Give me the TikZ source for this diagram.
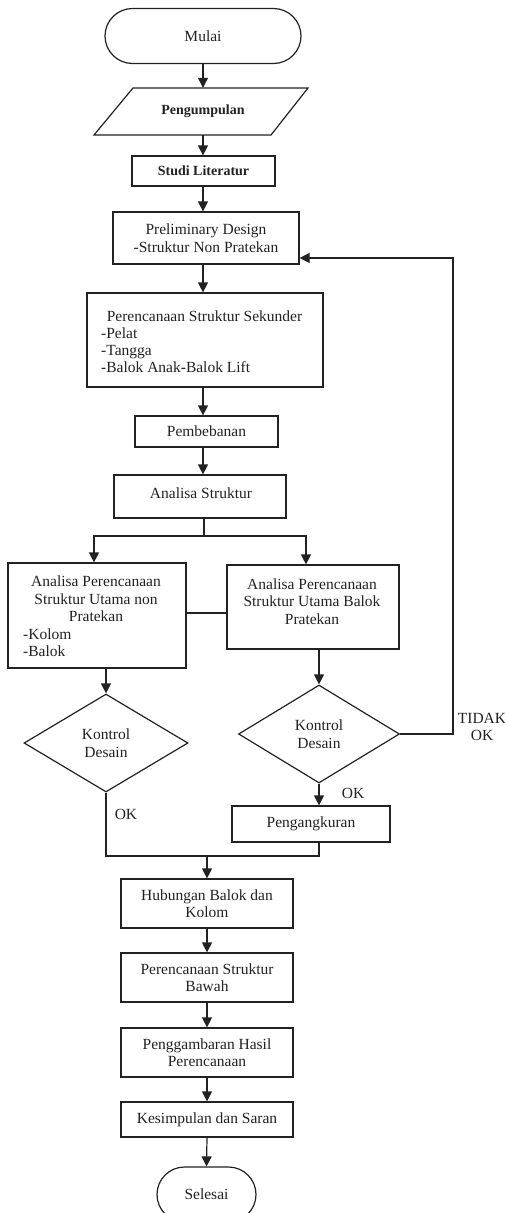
\documentclass[tikz,border=0pt]{standalone}
\usepackage{fontspec}
\setmainfont{Liberation Serif}
\usetikzlibrary{shapes.geometric,shapes.misc,arrows.meta}
\definecolor{ink}{HTML}{222222}
\begin{document}
\begin{tikzpicture}[x=1pt,y=-1pt,
  every node/.style={font=\fontsize{15.5}{17.5}\selectfont, text=ink},
  bsize/.style={font=\fontsize{14}{16}\selectfont\bfseries},
  box/.style={draw=ink, line width=1.2pt, rectangle, inner sep=0pt},
  term/.style={draw=ink, line width=1.2pt, rounded rectangle, inner sep=0pt},
  dec/.style={draw=ink, line width=1.2pt, diamond, inner sep=0pt, align=center},
  txt/.style={inner sep=0pt},
  one/.style={inner sep=0pt, text height=10.5pt, text depth=3pt, yshift=-2.5pt},
  ln/.style={draw=ink, line width=1.2pt},
  arr/.style={draw=ink, line width=1.2pt, -{Triangle[length=10pt,width=10pt]}}]
\useasboundingbox (0,0) rectangle (505,1213);
\clip (0,0) rectangle (505,1213);

% nodes
\node[term, minimum width=196, minimum height=55] (mulai) at (203,36) {Mulai};
\draw[ln] (94,135) -- (133,88) -- (308,88) -- (271,135) -- cycle;
\node[txt, minimum width=214, minimum height=47, bsize] (peng) at (203,111.5) {Pengumpulan};
\node[box, minimum width=143, minimum height=30, bsize] (studi) at (203.5,171) {Studi Literatur};
\node[box, minimum width=186, minimum height=52, align=center] (prelim) at (206,238) {Preliminary Design\\-Struktur Non Pratekan};
\node[box, minimum width=236, minimum height=94] (sek) at (205,340) {};
\node[one] (sek1) at (204.5,315) {Perencanaan Struktur Sekunder};
\node[one, anchor=west] (sek2) at (101,332) {-Pelat};
\node[one, anchor=west] (sek3) at (101,349) {-Tangga};
\node[one, anchor=west] (sek4) at (101,366) {-Balok Anak-Balok Lift};
\node[box, minimum width=143, minimum height=31] (pemb) at (206.5,431.5) {Pembebanan};
\node[box, minimum width=172, minimum height=43] (anal) at (200,496.5) {};
\node[one] (analt) at (201,492) {Analisa Struktur};

\node[box, minimum width=178, minimum height=105] (left) at (97,615.5) {};
\node[txt, align=center] (leftt) at (96,599) {Analisa Perencanaan\\Struktur Utama non\\Pratekan};
\node[one, anchor=west] (left2) at (23,633) {-Kolom};
\node[one, anchor=west] (left3) at (23,650) {-Balok};
\node[box, minimum width=172, minimum height=84] (right) at (313,607) {};
\node[txt, align=center] (rightt) at (312,601.5) {Analisa Perencanaan\\Struktur Utama Balok\\Pratekan};

\node[dec, minimum width=164, minimum height=98] (dl) at (106,743) {Kontrol\\Desain};
\node[dec, minimum width=161, minimum height=98] (dr) at (319,734) {Kontrol\\Desain};
\node[txt, align=center] (tidak) at (482,727) {TIDAK\\OK};
\node[one] (okr) at (353,792) {OK};
\node[one] (okl) at (126,813) {OK};
\node[box, minimum width=158, minimum height=36] (pang) at (311,824) {Pengangkuran};

\node[box, minimum width=172, minimum height=49, align=center] (hub) at (207,903.5) {Hubungan Balok dan\\Kolom};
\node[box, minimum width=172, minimum height=49, align=center] (bawah) at (207,977.5) {Perencanaan Struktur\\Bawah};
\node[box, minimum width=172, minimum height=49, align=center] (gamb) at (207,1052.5) {Penggambaran Hasil\\Perencanaan};
\node[box, minimum width=172, minimum height=35] (kes) at (207,1119.5) {Kesimpulan dan Saran};
\node[term, minimum width=99, minimum height=55] (selesai) at (206.5,1194.5) {Selesai};

% connectors
\draw[arr] (mulai.south) -- (mulai.south |- peng.north);
\draw[arr] (mulai.south |- peng.south) -- (mulai.south |- studi.north);
\draw[arr] (mulai.south |- studi.south) -- (mulai.south |- prelim.north);
\draw[arr] (mulai.south |- prelim.south) -- (mulai.south |- sek.north);
\draw[arr] (mulai.south |- sek.south) -- (mulai.south |- pemb.north);
\draw[arr] (mulai.south |- pemb.south) -- (mulai.south |- anal.north);

\coordinate (br) at (204,536);
\coordinate (bl) at (94,536);
\coordinate (brr) at (306,536);
\draw[ln] (br |- anal.south) -- (br);
\draw[arr] (br) -- (bl) -- (bl |- left.north);
\draw[arr] (br) -- (brr) -- (brr |- right.north);
\draw[ln] (left.east |- 0,613) -- (right.west |- 0,613);

\draw[arr] (dl.north |- left.south) -- (dl.north);
\draw[arr] (dr.north |- right.south) -- (dr.north);

\coordinate (fb) at (453,258);
\draw[arr] (dr.east) -| (fb) -- (prelim.east |- fb);

\draw[arr] (dr.south) -- (dr.south |- pang.north);
\coordinate (mL) at (106,856);
\coordinate (mR) at (319,856);
\coordinate (mC) at (207,856);
\draw[ln] (dl.south) -- (mL) -- (mR) -- (mR |- pang.south);
\draw[arr] (mC) -- (hub.north);
\draw[arr] (hub.south) -- (bawah.north);
\draw[arr] (bawah.south) -- (gamb.north);
\draw[arr] (gamb.south) -- (kes.north);
\draw[arr] (kes.south) -- (selesai.north);
\end{tikzpicture}
\end{document}
